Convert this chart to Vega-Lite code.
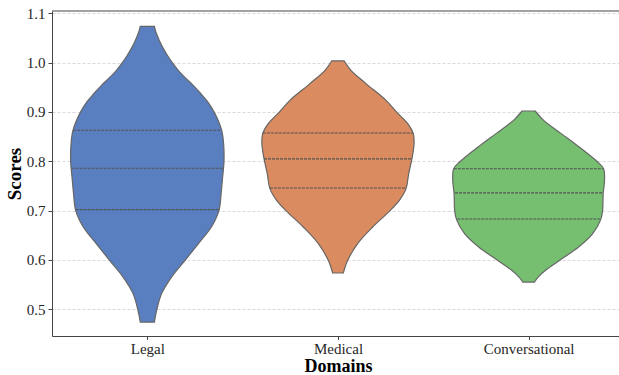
{
  "$schema": "https://vega.github.io/schema/vega-lite/v6.json",
  "width": 567,
  "height": 325,
  "autosize": {"type": "none"},
  "padding": {"left": 52, "top": 11, "right": 0, "bottom": 39},
  "background": "white",
  "config": {
    "view": {"stroke": null},
    "font": "Liberation Serif",
    "axis": {"labelFont": "Liberation Serif", "titleFont": "Liberation Serif"}
  },
  "datasets": {
    "violins": [
      {"domain": "Legal", "score": 1.0736, "half": 0.037},
      {"domain": "Legal", "score": 1.062, "half": 0.045},
      {"domain": "Legal", "score": 1.045, "half": 0.063},
      {"domain": "Legal", "score": 1.03, "half": 0.082},
      {"domain": "Legal", "score": 1.015, "half": 0.105},
      {"domain": "Legal", "score": 1.0, "half": 0.131},
      {"domain": "Legal", "score": 0.985, "half": 0.161},
      {"domain": "Legal", "score": 0.97, "half": 0.197},
      {"domain": "Legal", "score": 0.955, "half": 0.238},
      {"domain": "Legal", "score": 0.937, "half": 0.281},
      {"domain": "Legal", "score": 0.92, "half": 0.318},
      {"domain": "Legal", "score": 0.8987, "half": 0.352},
      {"domain": "Legal", "score": 0.8628, "half": 0.39},
      {"domain": "Legal", "score": 0.8358, "half": 0.4},
      {"domain": "Legal", "score": 0.7986, "half": 0.402},
      {"domain": "Legal", "score": 0.7682, "half": 0.395},
      {"domain": "Legal", "score": 0.7345, "half": 0.387},
      {"domain": "Legal", "score": 0.7006, "half": 0.376},
      {"domain": "Legal", "score": 0.6668, "half": 0.336},
      {"domain": "Legal", "score": 0.6331, "half": 0.268},
      {"domain": "Legal", "score": 0.5993, "half": 0.198},
      {"domain": "Legal", "score": 0.5654, "half": 0.127},
      {"domain": "Legal", "score": 0.5318, "half": 0.075},
      {"domain": "Legal", "score": 0.4979, "half": 0.049},
      {"domain": "Legal", "score": 0.4742, "half": 0.037},
      {"domain": "Medical", "score": 1.0034, "half": 0.033},
      {"domain": "Medical", "score": 0.9845, "half": 0.068},
      {"domain": "Medical", "score": 0.9575, "half": 0.147},
      {"domain": "Medical", "score": 0.9236, "half": 0.252},
      {"domain": "Medical", "score": 0.8987, "half": 0.31},
      {"domain": "Medical", "score": 0.8764, "half": 0.366},
      {"domain": "Medical", "score": 0.8561, "half": 0.395},
      {"domain": "Medical", "score": 0.8358, "half": 0.399},
      {"domain": "Medical", "score": 0.8054, "half": 0.388},
      {"domain": "Medical", "score": 0.775, "half": 0.371},
      {"domain": "Medical", "score": 0.7446, "half": 0.357},
      {"domain": "Medical", "score": 0.7209, "half": 0.322},
      {"domain": "Medical", "score": 0.6986, "half": 0.269},
      {"domain": "Medical", "score": 0.6668, "half": 0.182},
      {"domain": "Medical", "score": 0.6331, "half": 0.103},
      {"domain": "Medical", "score": 0.5993, "half": 0.051},
      {"domain": "Medical", "score": 0.5736, "half": 0.028},
      {"domain": "Conversational", "score": 0.902, "half": 0.034},
      {"domain": "Conversational", "score": 0.8831, "half": 0.079},
      {"domain": "Conversational", "score": 0.8561, "half": 0.171},
      {"domain": "Conversational", "score": 0.829, "half": 0.265},
      {"domain": "Conversational", "score": 0.7986, "half": 0.362},
      {"domain": "Conversational", "score": 0.7852, "half": 0.393},
      {"domain": "Conversational", "score": 0.7615, "half": 0.398},
      {"domain": "Conversational", "score": 0.7345, "half": 0.391},
      {"domain": "Conversational", "score": 0.7006, "half": 0.388},
      {"domain": "Conversational", "score": 0.6818, "half": 0.378},
      {"domain": "Conversational", "score": 0.6534, "half": 0.336},
      {"domain": "Conversational", "score": 0.6263, "half": 0.262},
      {"domain": "Conversational", "score": 0.5993, "half": 0.163},
      {"domain": "Conversational", "score": 0.579, "half": 0.089},
      {"domain": "Conversational", "score": 0.5654, "half": 0.05},
      {"domain": "Conversational", "score": 0.5553, "half": 0.031}
    ],
    "quartiles": [
      {"domain": "Legal", "score": 0.863, "half": 0.389},
      {"domain": "Legal", "score": 0.786, "half": 0.397},
      {"domain": "Legal", "score": 0.702, "half": 0.376},
      {"domain": "Medical", "score": 0.8575, "half": 0.394},
      {"domain": "Medical", "score": 0.805, "half": 0.388},
      {"domain": "Medical", "score": 0.746, "half": 0.357},
      {"domain": "Conversational", "score": 0.785, "half": 0.392},
      {"domain": "Conversational", "score": 0.736, "half": 0.386},
      {"domain": "Conversational", "score": 0.683, "half": 0.374}
    ]
  },
  "layer": [
    {
      "data": {"name": "violins"},
      "transform": [
        {"calculate": "indexof(['Legal','Medical','Conversational'], datum.domain)", "as": "pos"},
        {"calculate": "datum.pos - datum.half", "as": "left"},
        {"calculate": "datum.pos + datum.half", "as": "right"}
      ],
      "mark": {"type": "area", "orient": "horizontal", "interpolate": "catmull-rom", "stroke": "#666666", "strokeWidth": 1.2, "fillOpacity": 1},
      "encoding": {
        "y": {
          "field": "score", "type": "quantitative",
          "scale": {"domain": [0.4459, 1.1047], "nice": false, "zero": false},
          "axis": {
            "values": [0.5, 0.6, 0.7, 0.8, 0.9, 1.0, 1.1], "format": ".1f",
            "labelFont": "Liberation Serif", "labelFontSize": 15, "labelColor": "#262626",
            "tickColor": "#444444", "tickSize": 4, "labelPadding": 3,
            "domainColor": "#444444", "domainWidth": 1,
            "grid": true, "gridColor": "#cfcfcf", "gridDash": [3, 2], "gridWidth": 0.8,
            "title": "Scores", "titleFont": "Liberation Serif", "titleFontSize": 19, "titleFontWeight": "bold", "titleColor": "#000000",
            "titleX": -38, "titleY": 162.5, "titleAngle": -90, "titleAlign": "center", "titleBaseline": "middle"
          }
        },
        "x": {
          "field": "left", "type": "quantitative",
          "scale": {"domain": [-0.5, 2.474], "nice": false, "zero": false},
          "axis": {
            "values": [0, 1, 2],
            "labelExpr": "['Legal','Medical','Conversational'][datum.value]",
            "labelFont": "Liberation Serif", "labelFontSize": 15, "labelColor": "#262626",
            "tickColor": "#444444", "tickSize": 3.5, "labelPadding": 2,
            "domainColor": "#444444", "domainWidth": 1, "grid": false,
            "title": "Domains", "titleFont": "Liberation Serif", "titleFontSize": 18, "titleFontWeight": "bold", "titleColor": "#000000",
            "titleX": 286, "titleY": 35, "titleAlign": "center", "titleBaseline": "alphabetic"
          }
        },
        "x2": {"field": "right"},
        "color": {
          "field": "domain", "type": "nominal",
          "scale": {"domain": ["Legal", "Medical", "Conversational"], "range": ["#5a7fc0", "#da8b5f", "#76bf71"]},
          "legend": null
        }
      }
    },
    {
      "data": {"name": "quartiles"},
      "transform": [
        {"calculate": "indexof(['Legal','Medical','Conversational'], datum.domain)", "as": "pos"},
        {"calculate": "datum.pos - datum.half", "as": "left"},
        {"calculate": "datum.pos + datum.half", "as": "right"}
      ],
      "mark": {"type": "rule", "stroke": "#555555", "strokeWidth": 1.1, "strokeDash": [3, 1]},
      "encoding": {
        "y": {"field": "score", "type": "quantitative"},
        "x": {"field": "left", "type": "quantitative"},
        "x2": {"field": "right"}
      }
    },
    {
      "data": {"values": [{}]},
      "mark": {"type": "rule", "stroke": "#444444", "strokeWidth": 1},
      "encoding": {"y": {"datum": 1.1047}}
    }
  ]
}
